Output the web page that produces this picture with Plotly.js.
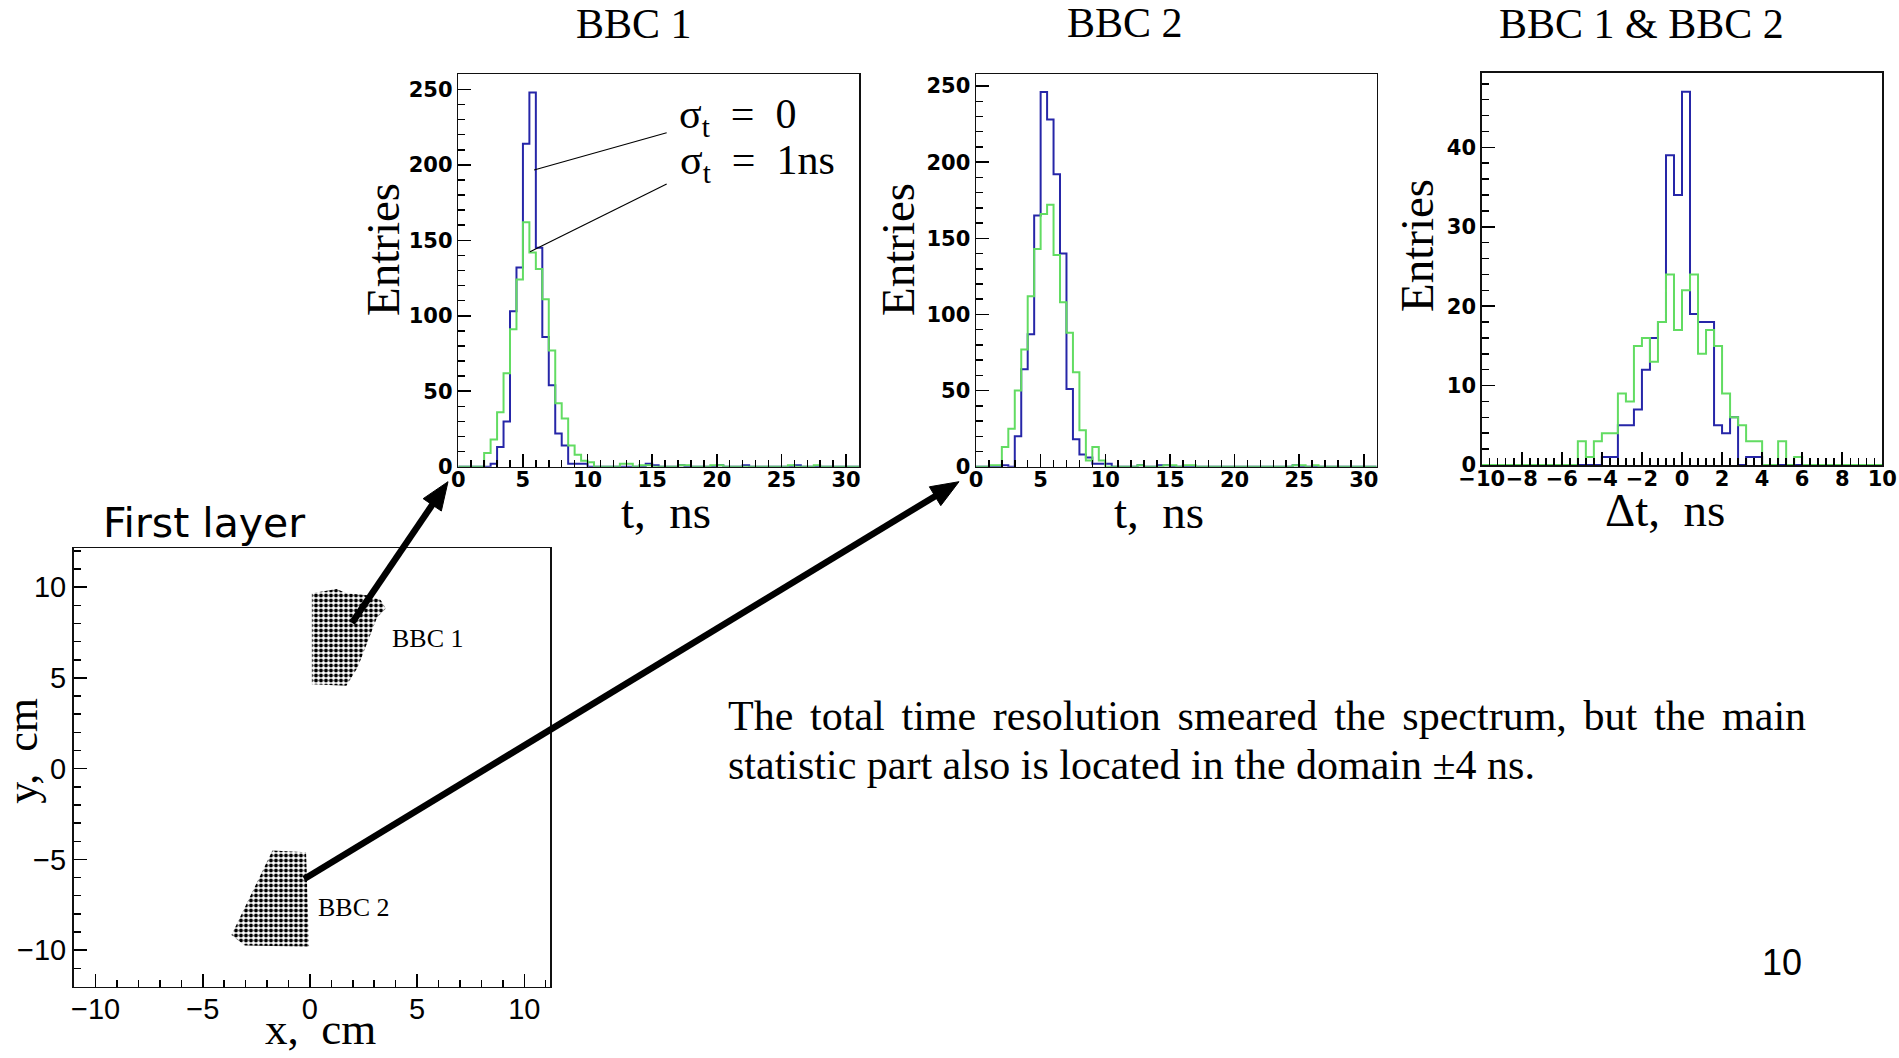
<!DOCTYPE html>
<html>
<head>
<meta charset="utf-8">
<script src="https://cdn.plot.ly/plotly-3.0.1.min.js"></script>
<style>
  html, body { margin: 0; padding: 0; background: #fff; }
  #chart { width: 1899px; height: 1058px; }
</style>
</head>
<body>
<div id="chart"></div>
<script>
// ---------------- DATA ----------------
// time histograms: bins of 0.5 ns from 0 to 31 ns
const tBinLow = 0;
const tBinWidth = 0.5;
const bbc1_sigma0 = [0,0,0,0,0, 2,13,30,103,132, 214,248,145,86,54, 22,14,2,2,2, 0,0,0,0,0, 0,0,0,0,2, 1,0,0,0,1, 0,0,0,0,0, 1,0,0,0,1, 0,0,0,0,0, 0,0,1,0,0, 0,0,0,0,0, 0,0];
const bbc1_sigma1 = [0,0,0,0,9, 18,36,62,91,124, 162,142,131,111,77, 42,32,14,8,4, 3,0,0,0,0, 2,2,0,1,1, 0,0,0,0,1, 1,0,0,0,1, 1,0,0,0,0, 0,0,0,0,0, 0,1,0,0,0, 1,0,0,0,0, 0,0];
const bbc2_sigma0 = [0,0,0,0,1, 0,20,64,87,165, 246,228,192,140,51, 18,8,6,2,2, 2,0,0,0,0, 1,0,0,1,1, 0,0,0,0,0, 0,0,0,0,0, 0,0,0,0,0, 0,0,0,0,1, 0,0,0,0,0, 0,0,0,0,0, 0,0];
const bbc2_sigma1 = [0,0,1,1,13, 25,50,77,112,143, 166,172,139,108,88, 62,24,4,13,4, 0,0,0,0,0, 1,0,0,0,1, 1,0,1,1,0, 0,0,0,0,0, 0,0,0,0,0, 0,0,0,0,1, 1,0,1,0,0, 0,0,0,0,0, 0,0];
// time difference histograms: bins of 0.4 ns from -10 to 10 ns
const dtBinLow = -10;
const dtBinWidth = 0.4;
const dt_sigma0 = [0,0,0,0,0, 0,0,0,0,0, 0,0,0,0,0, 1,1,5,5,7, 12,16,18,39,34, 47,19,18,18,5, 4,6,0,1,1, 0,0,0,0,0, 0,0,0,0,0, 0,0,0,0,0];
const dt_sigma1 = [0,0,0,0,0, 0,0,0,0,0, 0,0,3,1,3, 4,4,9,8,15, 16,13,18,24,17, 22,24,14,17,15, 9,6,5,3,3, 0,0,3,0,1, 0,0,0,0,0, 0,0,0,0,0];
// hit regions on the first layer (outline of the dot clouds, cm)
const bbc1_hits_x = [0.09, 1.25, 1.7, 2.68, 3.3, 3.54, 3.13, 2.23, 1.7, 0.09];
const bbc1_hits_y = [9.67, 9.9, 9.67, 9.55, 9.3, 8.82, 8.33, 5.59, 4.57, 4.65];
const bbc2_hits_x = [-1.75, -0.18, -0.04, -3.04, -3.66];
const bbc2_hits_y = [-4.51, -4.61, -9.8, -9.75, -9.16];

// ---------------- helpers ----------------
const W = 1899, H = 1058;
const px = v => v / W;
const py = v => 1 - v / H;
const SERIF = 'Liberation Serif';
const SANS = 'Liberation Sans';
const BLUE = '#2626a8';
const GREEN = '#62dc62';

function stepTrace(counts, lo, width, color, xa, ya) {
  const x = [], y = [];
  for (let i = 0; i <= counts.length; i++) {
    x.push(lo + i * width);
    y.push(i < counts.length ? counts[i] : counts[counts.length - 1]);
  }
  return {type: 'scatter', mode: 'lines', x: x, y: y, xaxis: xa, yaxis: ya,
          line: {shape: 'hv', color: color, width: 2}, cliponaxis: false,
          hoverinfo: 'skip', showlegend: false};
}

function axis(domain, range, dtick, minor, font, anchor, standoff) {
  return {domain: domain, range: range, anchor: anchor, tick0: 0, dtick: dtick,
          ticks: 'inside', ticklen: 13, tickwidth: 1.5, tickcolor: '#000', tickangle: 0,
          ticklabelstandoff: standoff || 0,
          showline: true, mirror: true, linecolor: '#111', linewidth: 1.5,
          showgrid: false, zeroline: false, tickfont: font, fixedrange: true,
          minor: {ticks: 'inside', ticklen: 7, tickwidth: 1.5, tickcolor: '#000', dtick: minor, showgrid: false}};
}

const boldTick = {family: 'DejaVu Sans', size: 21, color: '#000', weight: 'bold'};
const plainTick = {family: SANS, size: 29, color: '#000'};

const traces = [
  stepTrace(bbc1_sigma0, tBinLow, tBinWidth, BLUE, 'x', 'y'),
  stepTrace(bbc1_sigma1, tBinLow, tBinWidth, GREEN, 'x', 'y'),
  stepTrace(bbc2_sigma0, tBinLow, tBinWidth, BLUE, 'x2', 'y2'),
  stepTrace(bbc2_sigma1, tBinLow, tBinWidth, GREEN, 'x2', 'y2'),
  stepTrace(dt_sigma0, dtBinLow, dtBinWidth, BLUE, 'x3', 'y3'),
  stepTrace(dt_sigma1, dtBinLow, dtBinWidth, GREEN, 'x3', 'y3'),
  {type: 'scatter', mode: 'lines', x: bbc1_hits_x, y: bbc1_hits_y, xaxis: 'x4', yaxis: 'y4',
   fill: 'toself', line: {width: 0, color: 'rgba(0,0,0,0)'}, fillcolor: 'rgba(0,0,0,0)',
   fillpattern: {shape: '.', fgcolor: '#000', bgcolor: '#fff', size: 5, solidity: 0.5},
   hoverinfo: 'skip', showlegend: false},
  {type: 'scatter', mode: 'lines', x: bbc2_hits_x, y: bbc2_hits_y, xaxis: 'x4', yaxis: 'y4',
   fill: 'toself', line: {width: 0, color: 'rgba(0,0,0,0)'}, fillcolor: 'rgba(0,0,0,0)',
   fillpattern: {shape: '.', fgcolor: '#000', bgcolor: '#fff', size: 5, solidity: 0.5},
   hoverinfo: 'skip', showlegend: false}
];

const yHist = [py(466.7), py(74)];
const layout = {
  width: W, height: H, margin: {l: 0, r: 0, t: 0, b: 0},
  paper_bgcolor: '#fff', plot_bgcolor: '#fff', showlegend: false,
  xaxis:  axis([px(458.3), px(859)], [0, 31], 5, 1, boldTick, 'y', -6),
  yaxis:  axis(yHist, [0, 260.2], 50, 10, boldTick, 'x'),
  xaxis2: axis([px(976), px(1376.7)], [0, 31], 5, 1, boldTick, 'y2', -6),
  yaxis2: axis(yHist, [0, 257.9], 50, 10, boldTick, 'x2'),
  xaxis3: axis([px(1481.7), px(1882.3)], [-10, 10], 2, 0.4, boldTick, 'y3', -6),
  yaxis3: axis([py(465), py(72.7)], [0, 49.4], 10, 2, boldTick, 'x3'),
  xaxis4: axis([px(73.5), px(550)], [-11.03, 11.2], 5, 1, plainTick, 'y4', -4),
  yaxis4: axis([py(986.8), py(548)], [-12.02, 12.16], 5, 1, plainTick, 'x4'),
  shapes: [
    {type: 'line', xref: 'x', yref: 'y', x0: 16.12, y0: 221.3, x1: 5.86, y1: 196.6, line: {color: '#000', width: 1.2}},
    {type: 'line', xref: 'x', yref: 'y', x0: 16.12, y0: 187.3, x1: 5.55, y1: 142.4, line: {color: '#000', width: 1.2}}
  ],
  annotations: []
};

// thick arrows (tail -> head, in page pixels) drawn as a line + filled head
function arrow(tx, ty, hx, hy) {
  const dx = hx - tx, dy = hy - ty, len = Math.hypot(dx, dy);
  const ux = dx / len, uy = dy / len, nx = -uy, ny = ux;
  const L = 28, w = 11;
  const bx = hx - L * ux, by = hy - L * uy;
  layout.shapes.push({type: 'line', xref: 'paper', yref: 'paper',
    x0: px(tx), y0: py(ty), x1: px(bx + 2 * ux), y1: py(by + 2 * uy), line: {color: '#000', width: 6.5}});
  const p = 'M' + px(hx) + ',' + py(hy) + ' L' + px(bx + w * nx) + ',' + py(by + w * ny) +
            ' L' + px(bx - w * nx) + ',' + py(by - w * ny) + ' Z';
  layout.shapes.push({type: 'path', xref: 'paper', yref: 'paper', path: p,
    fillcolor: '#000', line: {color: '#000', width: 1}});
}
arrow(352, 622.8, 448, 481.7);
arrow(304.2, 879, 959, 481.7);

function txt(text, x, y, size, family, opts) {
  layout.annotations.push(Object.assign({
    text: text, xref: 'paper', yref: 'paper', x: px(x), y: py(y),
    xanchor: 'center', yanchor: 'middle', showarrow: false,
    font: {family: family, size: size, color: '#000'}
  }, opts || {}));
}

// panel titles
txt('BBC 1', 634, 23.5, 42, SERIF);
txt('BBC 2', 1124.6, 22.5, 42, SERIF);
txt('BBC 1 &amp; BBC 2', 1641, 23.5, 42, SERIF);
// axis titles
txt('Entries', 383, 250, 47, SERIF, {textangle: -90});
txt('Entries', 898, 250, 47, SERIF, {textangle: -90});
txt('Entries', 1417, 246, 47, SERIF, {textangle: -90});
txt('t,\u00a0\u00a0ns', 666, 512, 47, SERIF);
txt('t,\u00a0\u00a0ns', 1159, 512, 47, SERIF);
txt('\u0394t,\u00a0\u00a0ns', 1665, 510, 47, SERIF);
txt('y,\u00a0\u00a0cm', 23, 750.8, 44, SERIF, {textangle: -90});
txt('x,\u00a0\u00a0cm', 320.6, 1028.5, 45, SERIF);
// legend labels in first panel
txt('\u03c3<sub>t</sub>\u00a0\u00a0=\u00a0\u00a00', 676.7, 117, 42, SERIF, {xanchor: 'left'});
txt('\u03c3<sub>t</sub>\u00a0\u00a0=\u00a0\u00a01ns', 678, 162.6, 42, SERIF, {xanchor: 'left'});
// scatter panel labels
txt('First layer', 101, 523, 41, 'DejaVu Sans', {xanchor: 'left'});
txt('BBC 1', 389.6, 638.8, 26, SERIF, {xanchor: 'left'});
txt('BBC 2', 315.7, 907.5, 26, SERIF, {xanchor: 'left'});
// paragraph
const LINE1 = 'The total time resolution smeared the spectrum, but the main';
txt(LINE1, 725.7, 716, 42, SERIF, {xanchor: 'left', align: 'left'});
txt('statistic part also is located in the domain \u00b14 ns.', 725.7, 765.3, 42, SERIF, {xanchor: 'left', align: 'left'});
// page number
txt('10', 1803.8, 962, 36, SANS, {xanchor: 'right'});

Plotly.newPlot('chart', traces, layout, {staticPlot: true, displayModeBar: false}).then(function () {
  // justify the first paragraph line to the right margin, as on the slide
  document.querySelectorAll('.annotation-text').forEach(function (el) {
    if (el.textContent === LINE1) {
      const len = el.getComputedTextLength();
      const gaps = LINE1.split(' ').length - 1;
      const extra = (1803.8 - 725.7 - len) / gaps;
      if (extra > 0) el.setAttribute('word-spacing', extra.toFixed(2) + 'px');
    }
  });
});
</script>
</body>
</html>
